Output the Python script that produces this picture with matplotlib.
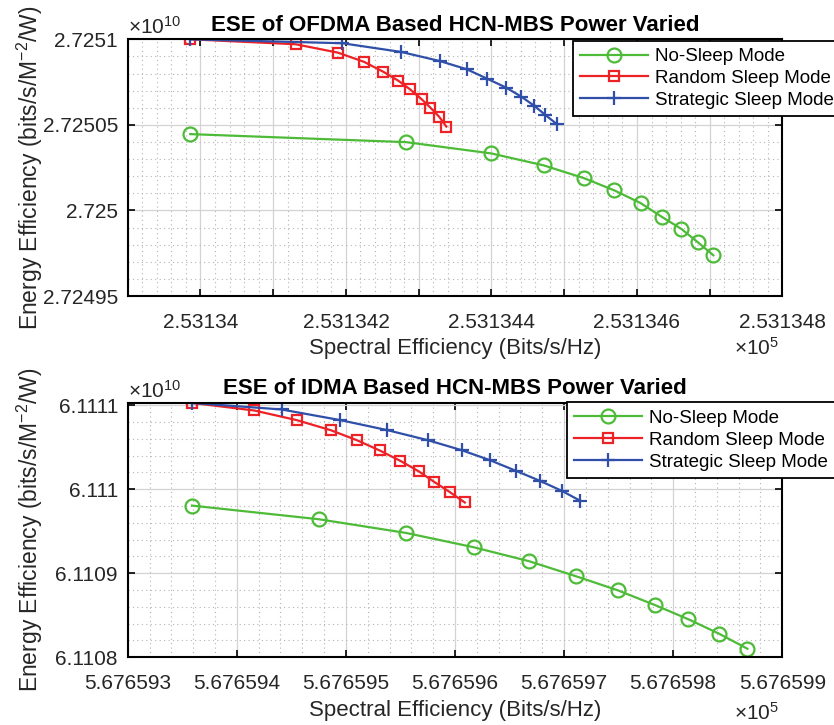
"""ESE (energy vs spectral efficiency) for OFDMA and IDMA HCN-MBS with varied power."""

import matplotlib

matplotlib.use("Agg")
import matplotlib.pyplot as plt
from matplotlib.ticker import FuncFormatter, MultipleLocator, AutoMinorLocator

plt.rcParams["font.family"] = ["Liberation Sans", "DejaVu Sans"]
plt.rcParams["mathtext.default"] = "regular"

MODES = ["No-Sleep Mode", "Random Sleep Mode", "Strategic Sleep Mode"]

# OFDMA: spectral efficiency (x1e5 bits/s/Hz), energy efficiency (x1e10)
ofdma_se_nosleep = [2.53133986, 2.53134283, 2.53134400, 2.53134472, 2.53134527, 2.53134569,
                    2.53134605, 2.53134634, 2.53134661, 2.53134684, 2.53134705]
ofdma_ee_nosleep = [2.7250446, 2.7250399, 2.7250333, 2.7250263, 2.7250189, 2.7250117,
                    2.7250043, 2.7249963, 2.7249892, 2.7249813, 2.7249738]
ofdma_se_random = [2.53133986, 2.53134131, 2.53134189, 2.53134225, 2.53134251, 2.53134272,
                   2.53134288, 2.53134304, 2.53134316, 2.53134328, 2.53134338]
ofdma_ee_random = [2.7251000, 2.7250971, 2.7250922, 2.7250868, 2.7250811, 2.7250758,
                   2.7250708, 2.7250650, 2.7250601, 2.7250548, 2.7250490]
ofdma_se_strategic = [2.53133986, 2.53134195, 2.53134276, 2.53134329, 2.53134366, 2.53134394,
                      2.53134420, 2.53134441, 2.53134459, 2.53134474, 2.53134490]
ofdma_ee_strategic = [2.7251000, 2.7250977, 2.7250926, 2.7250873, 2.7250825, 2.7250770,
                      2.7250718, 2.7250665, 2.7250611, 2.7250558, 2.7250504]

# IDMA: same units
idma_se_nosleep = [5.67659359, 5.67659475, 5.67659555, 5.67659617, 5.67659668, 5.67659711,
                   5.67659749, 5.67659783, 5.67659814, 5.67659842, 5.67659868]
idma_ee_nosleep = [6.1109805, 6.1109643, 6.1109480, 6.1109310, 6.1109143, 6.1108964,
                   6.1108798, 6.1108623, 6.1108452, 6.1108281, 6.1108102]
idma_se_random = [5.67659359, 5.67659416, 5.67659455, 5.67659486, 5.67659510, 5.67659531,
                  5.67659550, 5.67659567, 5.67659581, 5.67659595, 5.67659609]
idma_ee_random = [6.1111027, 6.1110937, 6.1110822, 6.1110703, 6.1110584, 6.1110461,
                  6.1110337, 6.1110211, 6.1110087, 6.1109968, 6.1109842]
idma_se_strategic = [5.67659359, 5.67659441, 5.67659495, 5.67659538, 5.67659575, 5.67659606,
                     5.67659632, 5.67659656, 5.67659678, 5.67659698, 5.67659715]
idma_ee_strategic = [6.1111027, 6.1110949, 6.1110822, 6.1110703, 6.1110584, 6.1110465,
                     6.1110346, 6.1110218, 6.1110099, 6.1109980, 6.1109861]

COLORS = ["#4dbb38", "#ec2227", "#2f4fa8"]
MARKERS = [("o", 10, "none"), ("s", 7, "none"), ("+", 10, None)]
INK = "#262626"


def style_axes(ax, xmajor, ymajor, xlim, ylim, label_every=1, xlabel_y=-0.16, exp_y=-0.2):
    ax.set_xlim(*xlim)
    ax.set_ylim(*ylim)
    ax.xaxis.set_major_locator(MultipleLocator(xmajor))
    ax.yaxis.set_major_locator(MultipleLocator(ymajor))
    ax.xaxis.set_minor_locator(AutoMinorLocator(5))
    ax.yaxis.set_minor_locator(AutoMinorLocator(5))

    def xfmt(v, _pos):
        if round(v / xmajor) % label_every:
            return ""
        return f"{v:.7g}"

    ax.xaxis.set_major_formatter(FuncFormatter(xfmt))
    ax.yaxis.set_major_formatter(FuncFormatter(lambda v, _p: f"{v:.6g}"))
    ax.tick_params(which="major", direction="in", length=5, width=1.2, top=True, right=True,
                   labelsize=15, labelcolor=INK)
    ax.tick_params(axis="x", which="major", pad=12)
    ax.tick_params(axis="y", which="major", pad=7)
    ax.tick_params(which="minor", length=0)
    ax.grid(which="major", color="#d3d3d3", linewidth=0.9)
    ax.grid(which="minor", color="#b4b4b4", linewidth=0.8, linestyle=(0, (1, 3)))
    for sp in ax.spines.values():
        sp.set_linewidth(1.5)
        sp.set_color("black")
    ax.set_xlabel("Spectral Efficiency (Bits/s/Hz)", fontsize=16, color=INK)
    ax.xaxis.set_label_coords(0.5, xlabel_y)
    ax.set_ylabel("Energy Efficiency (bits/s/M$^{-2}$/W)", fontsize=16.5, color=INK)
    ax.yaxis.set_label_coords(-0.127, 0.5)
    ax.text(0.0, 1.005, r"$\times10^{10}$", transform=ax.transAxes, ha="left", va="bottom",
            fontsize=15, color=INK)
    ax.text(0.995, exp_y, r"$\times10^{5}$", transform=ax.transAxes, ha="right", va="center",
            fontsize=15, color=INK)


def draw_series(ax, series):
    for (xs, ys), name, color, (mk, ms, mfc) in zip(series, MODES, COLORS, MARKERS):
        kw = dict(color=color, linewidth=1.6, marker=mk, markersize=ms, label=name,
                  markeredgewidth=1.6)
        if mfc:
            kw["markerfacecolor"] = mfc
        ax.plot(xs, ys, **kw)


fig = plt.figure(figsize=(8.34, 7.25), dpi=100)
ax_top = fig.add_axes([0.1531, 0.5917, 0.7851, 0.3541])
ax_bot = fig.add_axes([0.1531, 0.0934, 0.7849, 0.3512])

draw_series(ax_top, [(ofdma_se_nosleep, ofdma_ee_nosleep),
                     (ofdma_se_random, ofdma_ee_random),
                     (ofdma_se_strategic, ofdma_ee_strategic)])
style_axes(ax_top, 1e-6, 5e-5, (2.531339, 2.531348), (2.72495, 2.7251), label_every=2,
           xlabel_y=-0.162, exp_y=-0.203)
ax_top.set_title("ESE of OFDMA Based HCN-MBS Power Varied", fontsize=16, fontweight="bold",
                 pad=6)

draw_series(ax_bot, [(idma_se_nosleep, idma_ee_nosleep),
                     (idma_se_random, idma_ee_random),
                     (idma_se_strategic, idma_ee_strategic)])
style_axes(ax_bot, 1e-6, 1e-4, (5.676593, 5.676599), (6.1108, 6.111103),
           xlabel_y=-0.168, exp_y=-0.219)
ax_bot.set_title("ESE of IDMA Based HCN-MBS Power Varied", fontsize=16, fontweight="bold",
                 pad=6)

for ax, anchor in ((ax_top, (0.687, 0.944)), (ax_bot, (0.6795, 0.4451))):
    leg = ax.legend(loc="upper left", bbox_to_anchor=anchor, bbox_transform=fig.transFigure,
                    fontsize=13.5, fancybox=False, framealpha=1, edgecolor="black",
                    handlelength=3.6, borderpad=0.4, labelspacing=0.25, handletextpad=0.4,
                    borderaxespad=0)
    leg.get_frame().set_linewidth(1.3)

fig.savefig("out.png", dpi=100)
